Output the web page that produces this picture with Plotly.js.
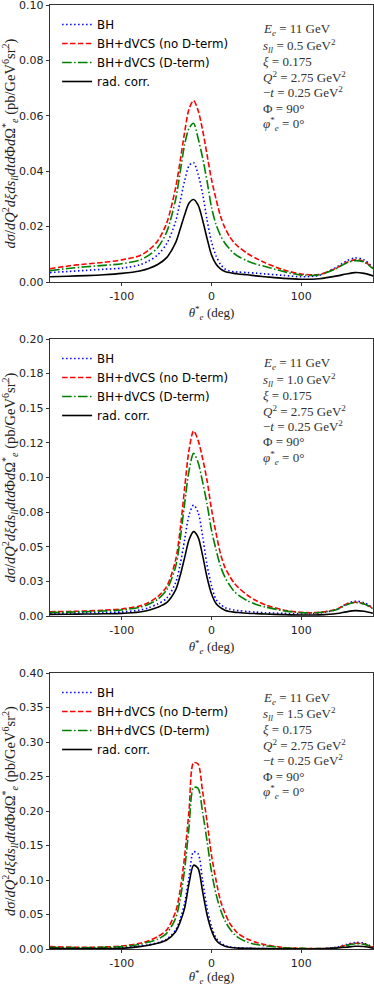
<!DOCTYPE html>
<html>
<head>
<meta charset="utf-8">
<script src="https://cdn.plot.ly/plotly-3.0.1.min.js"></script>
<style>
  html, body { margin: 0; padding: 0; background: #fff; }
  #grafica { width: 374px; height: 986px; }
</style>
</head>
<body>
<div id="grafica"></div>
<script>
// theta*_e (deg), same grid for every curve
const theta = [-180, -160, -140, -120, -100, -80, -70, -60, -50, -40, -35, -30, -25, -20, -15, -10, -5, 0, 5, 10, 15, 20, 25, 30, 40, 50, 60, 80, 100, 120, 140, 150, 160, 170, 180];

const nombres = ['BH', 'BH+dVCS (no D-term)', 'BH+dVCS (D-term)', 'rad. corr.'];

// s_ll = 0.5 GeV^2
const bh05 = [0.0034, 0.0038, 0.0042, 0.0046, 0.0050, 0.0062, 0.0076, 0.0098, 0.0138, 0.0218, 0.0290, 0.0365, 0.0420, 0.0431, 0.0390, 0.0320, 0.0225, 0.0145, 0.0095, 0.0064, 0.0047, 0.0040, 0.0037, 0.0036, 0.0034, 0.0032, 0.0029, 0.0024, 0.0019, 0.0024, 0.0055, 0.0075, 0.0087, 0.0080, 0.0052];
const noD05 = [0.0048, 0.0058, 0.0065, 0.0071, 0.0080, 0.0095, 0.0115, 0.0148, 0.0212, 0.0340, 0.0435, 0.0540, 0.0625, 0.0655, 0.0620, 0.0550, 0.0460, 0.0370, 0.0300, 0.0238, 0.0195, 0.0165, 0.0143, 0.0127, 0.0103, 0.0085, 0.0069, 0.0044, 0.0029, 0.0027, 0.0052, 0.0070, 0.0080, 0.0074, 0.0050];
const conD05 = [0.0041, 0.0049, 0.0055, 0.0060, 0.0066, 0.0079, 0.0096, 0.0124, 0.0180, 0.0298, 0.0395, 0.0495, 0.0555, 0.0573, 0.0520, 0.0450, 0.0365, 0.0270, 0.0208, 0.0168, 0.0140, 0.0120, 0.0103, 0.0092, 0.0076, 0.0064, 0.0056, 0.0038, 0.0025, 0.0026, 0.0050, 0.0068, 0.0077, 0.0072, 0.0048];
const rad05 = [0.0019, 0.0021, 0.0023, 0.0026, 0.0031, 0.0040, 0.0049, 0.0063, 0.0088, 0.0142, 0.0190, 0.0242, 0.0285, 0.0298, 0.0278, 0.0225, 0.0158, 0.0098, 0.0065, 0.0047, 0.0038, 0.0034, 0.0031, 0.0029, 0.0026, 0.0022, 0.0019, 0.0013, 0.0010, 0.0012, 0.0022, 0.0029, 0.0034, 0.0031, 0.0022];

// s_ll = 1.0 GeV^2
const bh10 = [0.0019, 0.0021, 0.0024, 0.0026, 0.0029, 0.0043, 0.0060, 0.0087, 0.0128, 0.0240, 0.0370, 0.0549, 0.0730, 0.0801, 0.0750, 0.0580, 0.0370, 0.0220, 0.0120, 0.0085, 0.0060, 0.0050, 0.0043, 0.0039, 0.0032, 0.0028, 0.0024, 0.0019, 0.0017, 0.0021, 0.0048, 0.0086, 0.0107, 0.0096, 0.0058];
const noD10 = [0.0031, 0.0033, 0.0036, 0.0042, 0.0051, 0.0072, 0.0098, 0.0140, 0.0212, 0.0404, 0.0620, 0.0920, 0.1200, 0.1336, 0.1270, 0.1140, 0.0980, 0.0770, 0.0600, 0.0450, 0.0350, 0.0290, 0.0240, 0.0205, 0.0150, 0.0110, 0.0081, 0.0043, 0.0026, 0.0026, 0.0050, 0.0085, 0.0099, 0.0088, 0.0055];
const conD10 = [0.0026, 0.0028, 0.0031, 0.0036, 0.0043, 0.0063, 0.0085, 0.0120, 0.0188, 0.0356, 0.0550, 0.0810, 0.1050, 0.1174, 0.1110, 0.0970, 0.0810, 0.0620, 0.0480, 0.0360, 0.0280, 0.0225, 0.0180, 0.0150, 0.0110, 0.0083, 0.0065, 0.0039, 0.0024, 0.0025, 0.0047, 0.0080, 0.0098, 0.0086, 0.0053];
const rad10 = [0.0012, 0.0013, 0.0014, 0.0016, 0.0019, 0.0029, 0.0042, 0.0063, 0.0096, 0.0188, 0.0290, 0.0420, 0.0550, 0.0609, 0.0570, 0.0440, 0.0280, 0.0160, 0.0090, 0.0060, 0.0042, 0.0033, 0.0028, 0.0025, 0.0020, 0.0017, 0.0014, 0.0010, 0.0007, 0.0008, 0.0018, 0.0030, 0.0039, 0.0034, 0.0020];

// s_ll = 1.5 GeV^2
const bh15 = [0.0014, 0.0012, 0.0010, 0.0013, 0.0019, 0.0043, 0.0062, 0.0092, 0.0140, 0.0275, 0.0430, 0.0662, 0.1048, 0.1410, 0.1380, 0.1000, 0.0600, 0.0330, 0.0160, 0.0095, 0.0050, 0.0030, 0.0022, 0.0016, 0.0010, 0.0007, 0.0005, 0.0002, 0.0001, 0.0002, 0.0030, 0.0065, 0.0095, 0.0085, 0.0024];
const noD15 = [0.0034, 0.0028, 0.0024, 0.0030, 0.0043, 0.0082, 0.0120, 0.0179, 0.0275, 0.0540, 0.0850, 0.1340, 0.2010, 0.2700, 0.2680, 0.2290, 0.1850, 0.1360, 0.1000, 0.0700, 0.0520, 0.0380, 0.0290, 0.0220, 0.0145, 0.0095, 0.0062, 0.0024, 0.0010, 0.0005, 0.0020, 0.0055, 0.0082, 0.0072, 0.0024];
const conD15 = [0.0024, 0.0021, 0.0019, 0.0024, 0.0034, 0.0068, 0.0100, 0.0140, 0.0227, 0.0444, 0.0720, 0.1145, 0.1773, 0.2340, 0.2330, 0.1990, 0.1570, 0.1120, 0.0800, 0.0570, 0.0410, 0.0300, 0.0220, 0.0165, 0.0100, 0.0065, 0.0045, 0.0019, 0.0010, 0.0005, 0.0018, 0.0050, 0.0076, 0.0068, 0.0020];
const rad15 = [0.0010, 0.0007, 0.0005, 0.0007, 0.0010, 0.0034, 0.0055, 0.0082, 0.0130, 0.0251, 0.0390, 0.0589, 0.0952, 0.1215, 0.1170, 0.0840, 0.0500, 0.0270, 0.0130, 0.0070, 0.0040, 0.0025, 0.0018, 0.0013, 0.0010, 0.0007, 0.0005, 0.0002, 0.0001, 0.0002, 0.0015, 0.0025, 0.0040, 0.0035, 0.0010];

const sllValores = ['0.5', '1.0', '1.5'];

// tick labels
const xTicks = [-100, 0, 100];
const xTickText = ['-100', '0', '100'];
const yTicks1 = [0, 0.02, 0.04, 0.06, 0.08, 0.10];
const yTickText1 = ['0.00', '0.02', '0.04', '0.06', '0.08', '0.10'];
const yTicks2 = [0, 0.025, 0.05, 0.075, 0.10, 0.125, 0.15, 0.175, 0.20];
const yTickText2 = ['0.00', '0.03', '0.05', '0.08', '0.10', '0.12', '0.15', '0.18', '0.20'];
const yTicks3 = [0, 0.05, 0.10, 0.15, 0.20, 0.25, 0.30, 0.35, 0.40];
const yTickText3 = ['0.00', '0.05', '0.10', '0.15', '0.20', '0.25', '0.30', '0.35', '0.40'];

const paneles = [
    { series: [bh05, noD05, conD05, rad05], ymax: 0.10, ticks: yTicks1, text: yTickText1 },
    { series: [bh10, noD10, conD10, rad10], ymax: 0.20, ticks: yTicks2, text: yTickText2 },
    { series: [bh15, noD15, conD15, rad15], ymax: 0.40, ticks: yTicks3, text: yTickText3 }
];

const estilos = [
    { color: 'blue', dash: '1.5px,2.5px' },
    { color: 'red', dash: '5.5px,2.4px' },
    { color: 'green', dash: '9.6px,2.4px,1.5px,2.4px' },
    { color: 'black', dash: 'solid' }
];

// pixel geometry of the three panels
const W = 374, H = 986;
const mL = 50, mR = 1, mT = 5, mB = 37;
const altoArea = H - mT - mB;
const panelPx = [[5, 282], [339, 616], [673, 949]];
const aPaper = px => (H - mB - px) / altoArea;

const sans = 'DejaVu Sans, sans-serif';
const serif = 'Liberation Serif, DejaVu Serif, serif';

const tituloY = '<i>dσ</i>/<i>dQ</i><sup>2</sup><i>dξds</i><sub><i>ll</i></sub><i>dtd</i>Φ<i>d</i>Ω<sup>*</sup><sub><i>e</i></sub> (pb/GeV<sup>6</sup>sr<sup>2</sup>)';
const tituloX = '<i>θ</i><sup>*</sup><sub><i>e</i></sub> (deg)';

function lineasTexto(sll) {
    return [
        '<i>E</i><sub><i>e</i></sub> = 11 GeV',
        '<i>s</i><sub><i>ll</i></sub> = ' + sll + ' GeV<sup>2</sup>',
        '<i>ξ</i> = 0.175',
        '<i>Q</i><sup>2</sup> = 2.75 GeV<sup>2</sup>',
        '−<i>t</i> = 0.25 GeV<sup>2</sup>',
        'Φ = 90°',
        '<i>φ</i><sup>*</sup><sub><i>e</i></sub> = 0°'
    ];
}

let data = [];
let layout = {
    width: W, height: H,
    margin: { l: mL, r: mR, t: mT, b: mB },
    paper_bgcolor: 'white', plot_bgcolor: 'white',
    font: { family: sans, size: 11, color: 'black' },
    annotations: [],
    showlegend: true
};

paneles.forEach((p, i) => {
    const n = i === 0 ? '' : String(i + 1);
    const top = panelPx[i][0], bot = panelPx[i][1];
    p.series.forEach((ys, k) => {
        data.push({
            type: 'scatter', mode: 'lines',
            x: theta, y: ys,
            xaxis: 'x' + n, yaxis: 'y' + n,
            name: nombres[k],
            legend: 'legend' + n,
            line: { color: estilos[k].color, dash: estilos[k].dash, width: 1.6, shape: 'spline', smoothing: 0.8 }
        });
    });

    layout['xaxis' + n] = {
        domain: [0, 1], anchor: 'y' + n, range: [-180, 180],
        tickvals: xTicks, ticktext: xTickText,
        ticks: 'outside', ticklen: 3.5, tickwidth: 0.8, tickcolor: 'black',
        showline: true, linecolor: 'black', linewidth: 0.8, mirror: true,
        showgrid: false, zeroline: false,
        tickfont: { family: sans, size: 11, color: '#222' },
        title: { text: tituloX, font: { family: serif, size: 13, color: '#222' }, standoff: 6 }
    };
    layout['yaxis' + n] = {
        domain: [aPaper(bot), aPaper(top)], anchor: 'x' + n, range: [0, p.ymax],
        tickvals: p.ticks, ticktext: p.text, ticklabeloverflow: 'allow',
        ticks: 'outside', ticklen: 3.5, tickwidth: 0.8, tickcolor: 'black',
        showline: true, linecolor: 'black', linewidth: 0.8, mirror: true,
        showgrid: false, zeroline: false,
        tickfont: { family: sans, size: 11, color: '#222' },
        title: { text: tituloY, font: { family: serif, size: 14.5, color: '#222' }, standoff: 1 }
    };
    layout['legend' + n] = {
        x: 0.022, xanchor: 'left',
        y: aPaper(top + 5), yanchor: 'top',
        bgcolor: 'rgba(0,0,0,0)', borderwidth: 0,
        font: { family: sans, size: 11.8, color: 'black' }
    };
    lineasTexto(sllValores[i]).forEach((t, j) => {
        layout.annotations.push({
            xref: 'x' + n + ' domain', yref: 'y' + n + ' domain',
            x: (261 - mL) / (W - mL - mR), y: 1 - (25 + 15.6 * j) / (bot - top),
            xanchor: 'left', yanchor: 'middle', align: 'left', showarrow: false,
            font: { family: serif, size: 13, color: '#333' },
            text: t
        });
    });
});

Plotly.newPlot('grafica', data, layout, { displayModeBar: false, staticPlot: true });
</script>
</body>
</html>
